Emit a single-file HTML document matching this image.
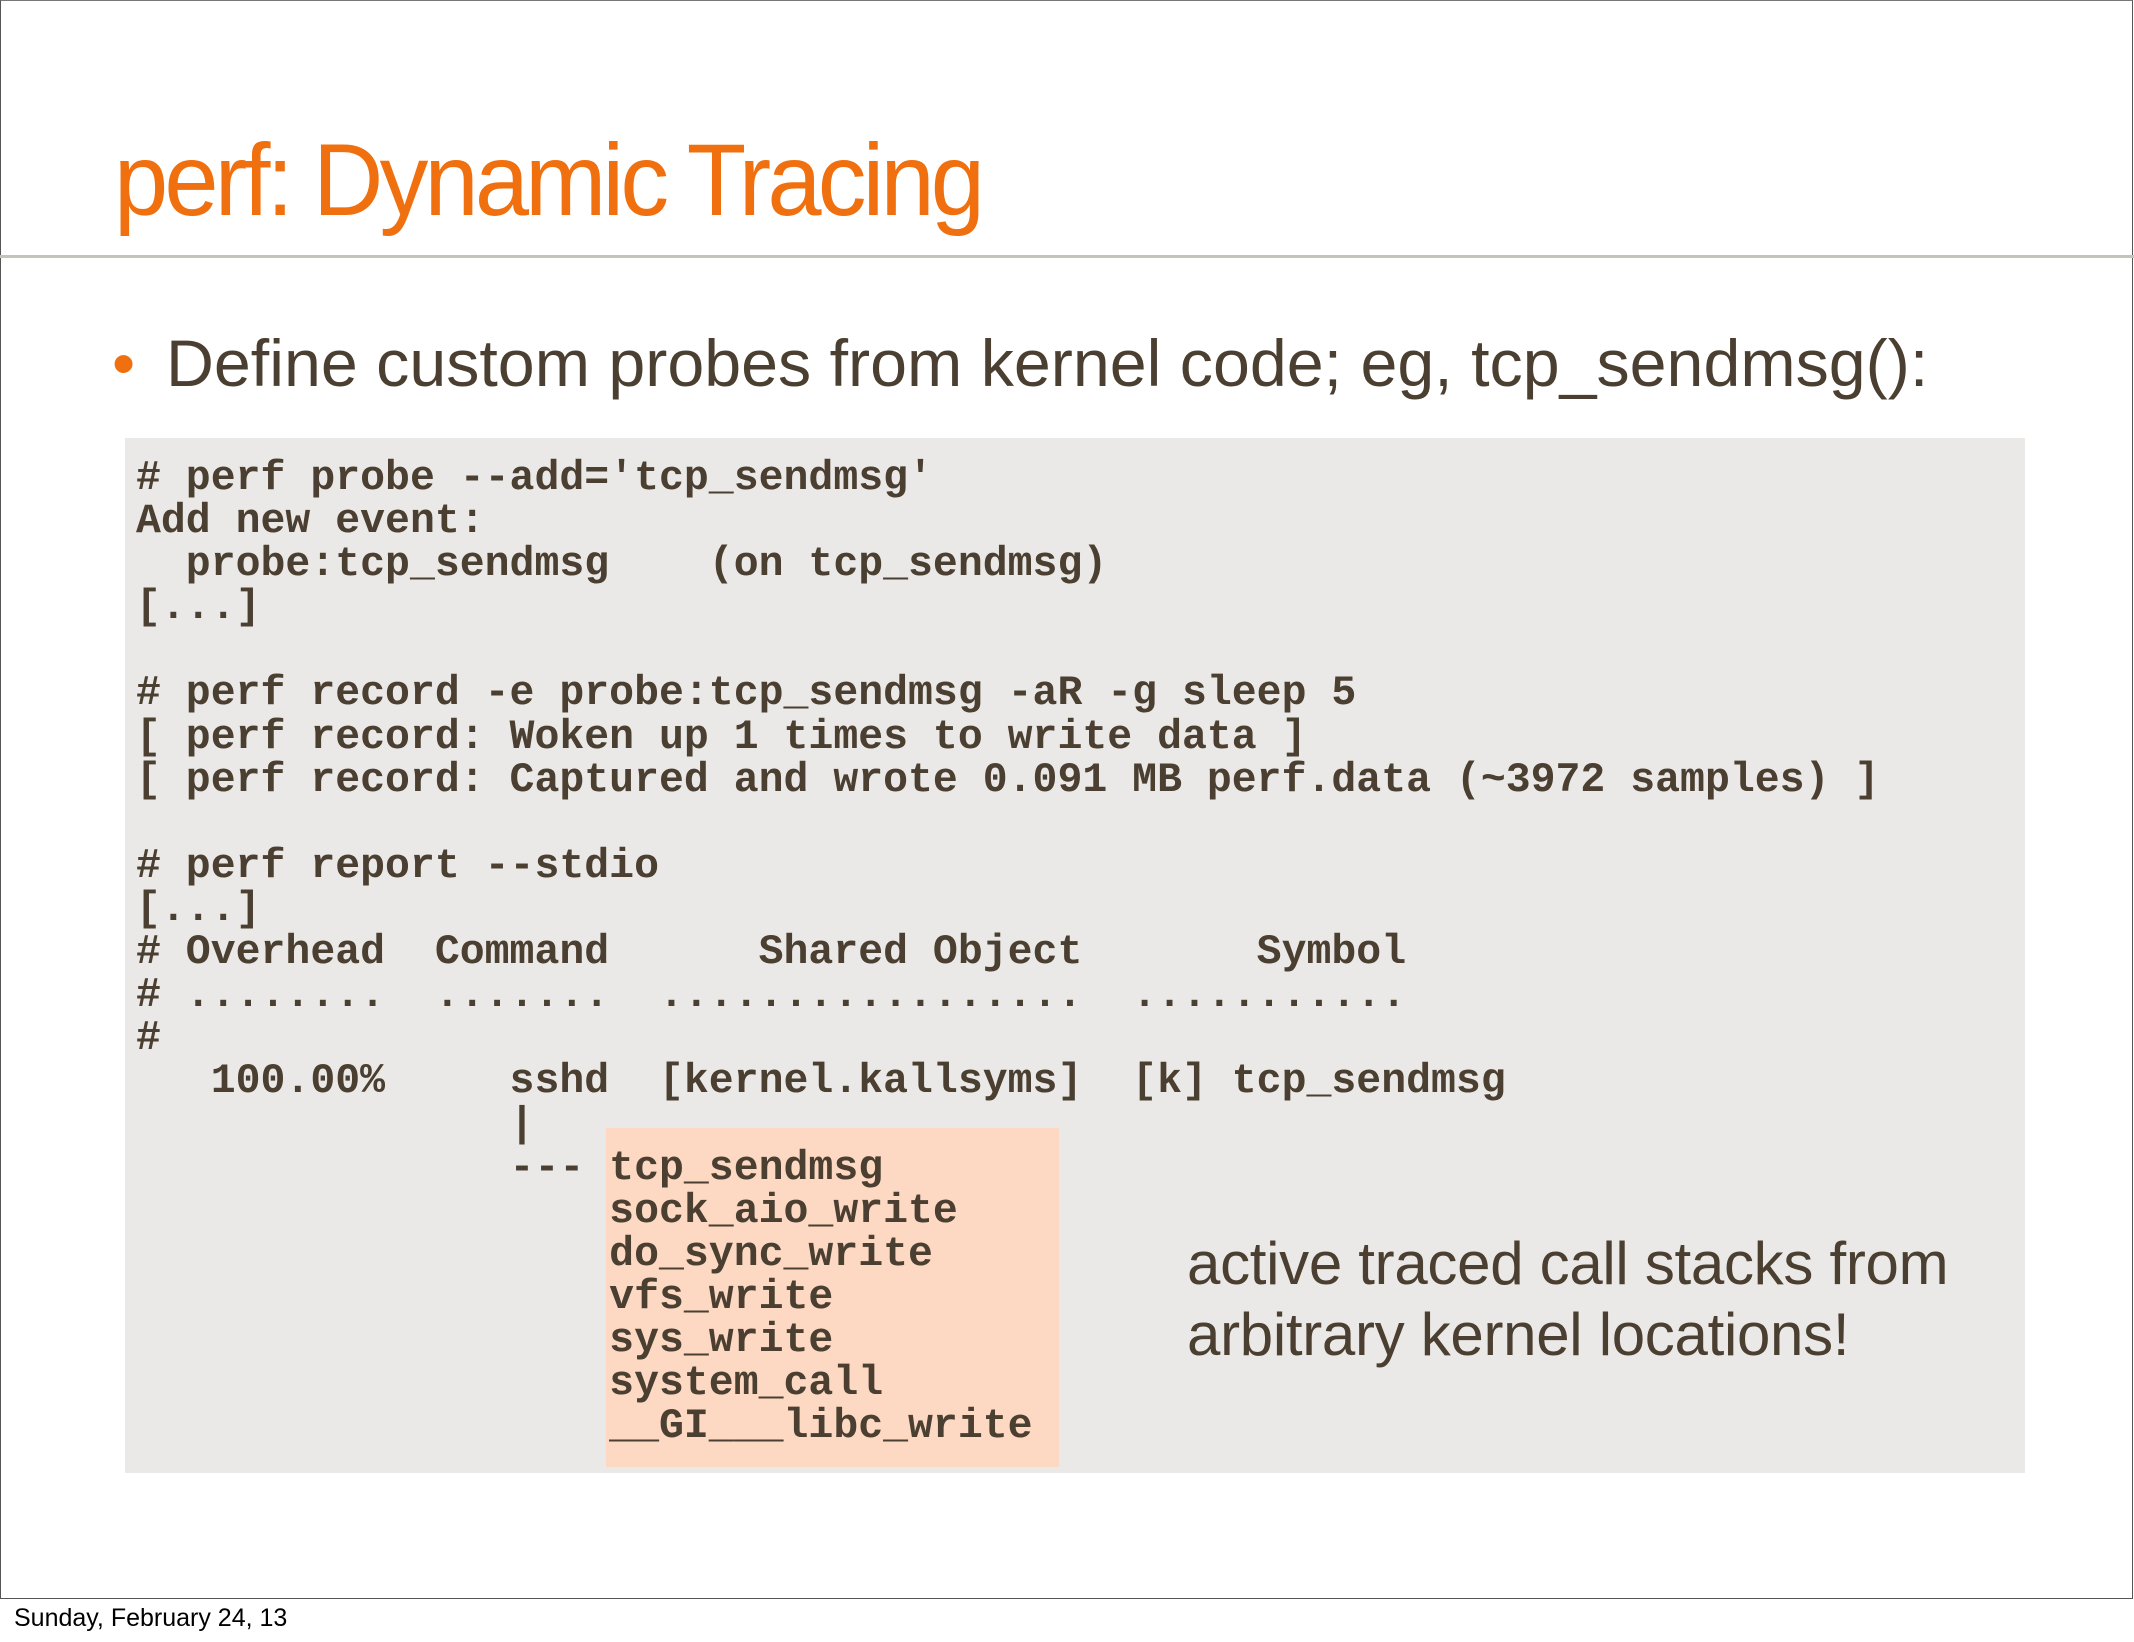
<!DOCTYPE html>
<html><head><meta charset="utf-8"><style>
html,body{margin:0;padding:0;}
body{width:2134px;height:1642px;position:relative;background:#fff;overflow:hidden;}
.frame{position:absolute;left:0;top:0;width:2131px;height:1597px;border:1.5px solid #555;border-top:1px solid #777;}
.title{position:absolute;left:114px;top:122px;font-family:"Liberation Sans",sans-serif;font-size:102px;color:#f0700f;letter-spacing:-4px;transform:scaleX(0.955);transform-origin:left top;white-space:nowrap;}
.rule{position:absolute;left:0;top:255px;width:2134px;height:3px;background:#c4c2bc;}
.bullet{position:absolute;left:112px;top:325px;font-family:"Liberation Sans",sans-serif;font-size:66px;color:#4a3f30;white-space:nowrap;}
.bullet .dot{color:#f0700f;position:absolute;left:0;top:0;}
.bullet .t{position:absolute;left:54px;top:0;transform:scaleX(1.005);transform-origin:left top;}
.box{position:absolute;left:125px;top:438px;width:1900px;height:1035px;background:#ebe9e7;}
.hl{position:absolute;left:606px;top:1128px;width:453px;height:339px;background:#fdd9c4;}
pre{position:absolute;left:136px;top:457px;margin:0;font-family:"Liberation Mono",monospace;font-weight:bold;font-size:41.5px;line-height:43.1px;color:#4a3f30;}
.note{position:absolute;left:1187px;top:1228px;font-family:"Liberation Sans",sans-serif;font-size:60px;line-height:71px;color:#4a3f30;white-space:nowrap;letter-spacing:-0.3px;}
.foot{position:absolute;left:14px;top:1604px;font-family:"Liberation Sans",sans-serif;font-size:25px;color:#000;}
</style></head><body>
<div class="frame"></div>
<div class="title">perf: Dynamic Tracing</div>
<div class="rule"></div>
<div class="bullet"><span class="dot">•</span><span class="t">Define custom probes from kernel code; eg, tcp_sendmsg():</span></div>
<div class="box"></div>
<div class="hl"></div>
<pre># perf probe --add='tcp_sendmsg'
Add new event:
  probe:tcp_sendmsg    (on tcp_sendmsg)
[...]

# perf record -e probe:tcp_sendmsg -aR -g sleep 5
[ perf record: Woken up 1 times to write data ]
[ perf record: Captured and wrote 0.091 MB perf.data (~3972 samples) ]

# perf report --stdio
[...]
# Overhead  Command      Shared Object       Symbol
# ........  .......  .................  ...........
#
   100.00%     sshd  [kernel.kallsyms]  [k] tcp_sendmsg
               |
               --- tcp_sendmsg
                   sock_aio_write
                   do_sync_write
                   vfs_write
                   sys_write
                   system_call
                   __GI___libc_write</pre>
<div class="note">active traced call stacks from<br>arbitrary kernel locations!</div>
<div class="foot">Sunday, February 24, 13</div>
</body></html>
